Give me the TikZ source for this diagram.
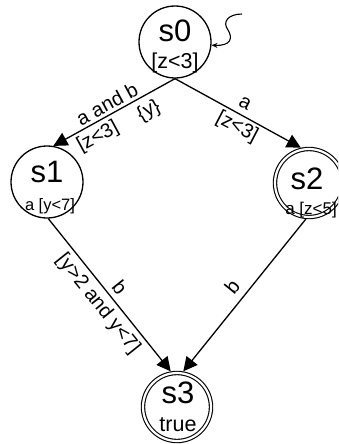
\documentclass[tikz,border=0pt]{standalone}
\usepackage{fontspec}
\setmainfont{Liberation Sans}
\usetikzlibrary{arrows.meta}
\newcommand{\fsz}[1]{\fontsize{#1}{#1}\selectfont}
\begin{document}
\begin{tikzpicture}[x=1pt,y=-1pt,
  state/.style={circle,draw,line width=1.3pt,minimum size=72pt,inner sep=0pt},
  accept/.style={circle,draw,double,double distance=2.2pt,line width=1.1pt,minimum size=68pt,inner sep=0pt,outer sep=2.2pt},
  trans/.style={line width=1.3pt,-{Triangle[length=14pt,width=14pt]}},
  nm/.style={font=\fsz{31},inner sep=0pt},
  elab/.style={font=\fsz{20},inner sep=0pt}
]
\useasboundingbox (0,0) rectangle (338,444);
\clip (0,0) rectangle (338,444);

% states
\node[state] (s0) at (175,42) {};
\node[state] (s1) at (47,182) {};
\node[accept] (s2) at (309,183) {};
\node[accept] (s3) at (177,407) {};

% state texts
\node[nm] (s0n) at (175,31) {s0};
\node[font=\fsz{21.5},inner sep=0pt] (s0g) at (175,63) {[z<3]};
\node[nm] (s1n) at (47,172) {s1};
\node[font=\fsz{16.5},inner sep=0pt] (s1g) at (50,206) {a [y<7]};
\node[nm] (s2n) at (307,179) {s2};
\node[font=\fsz{17},inner sep=0pt] (s2g) at (311,210) {a [z<5]};
\node[nm] (s3n) at (178,393) {s3};
\node[font=\fsz{21.5},inner sep=0pt] (s3g) at (178,425) {true};

% initial squiggle
\coordinate (init) at (242,14);
\draw[line width=1.1pt,-{Stealth[length=6pt,width=5pt]}] (init)
  .. controls (228,14) and (222,22) .. (228,30)
  .. controls (233,38) and (231,46) .. (s0.-5);

% transitions
\draw[trans] (s0.south) -- (s1.80);
\draw[trans] (s0.south) -- (s2.103);
\draw[trans] (s1.-88) -- (s3.100);
\draw[trans] (s2.-95) -- (s3.80);

% labels
\node[elab,rotate=28.4] (l1a) at (107,104) {a and b};
\node[elab,rotate=28.4] (l1b) at (98,137) {[z<3]};
\node[elab,rotate=28.4] (l1c) at (149,111) {\{y\}};
\node[elab,rotate=-27.5] (l2a) at (245,103) {a};
\node[elab,rotate=-27.5] (l2b) at (237,127) {[z<3]};
\node[elab,rotate=-51.3] (l3a) at (120,287) {b};
\node[elab,rotate=-51.3] (l3b) at (98,304) {[y>2 and y<7]};
\node[elab,rotate=51] (l4a) at (232,287) {b};
\end{tikzpicture}
\end{document}
